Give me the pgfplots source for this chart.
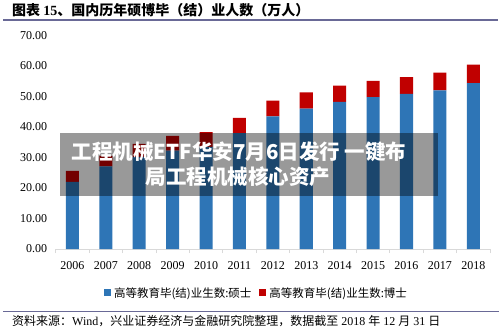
\documentclass[border=0pt]{standalone}
\usepackage{fontspec}
\setmainfont{Liberation Serif}
\newfontfamily\cjk{Noto Sans CJK SC}
\usepackage{pgfplots}
\pgfplotsset{compat=1.18}
\definecolor{mblue}{RGB}{46,117,182}
\definecolor{mred}{RGB}{192,0,0}
\definecolor{rulec}{RGB}{105,105,150}
\definecolor{axisgray}{RGB}{217,217,217}
\begin{document}
\begin{tikzpicture}[x=1pt,y=1pt]
\useasboundingbox (0,0) rectangle (500,330);
\begin{axis}[
  at={(55.7pt,81pt)}, anchor=south west,
  scale only axis, width=434.3pt, height=213.5pt,
  ybar stacked, bar width=0.39,
  xmin=-0.5, xmax=12.5, ymin=0, ymax=70,
  axis lines*=left,
  x axis line style={draw=axisgray, line width=0.8pt},
  y axis line style={draw=none},
  xtick={0,...,12},
  xticklabels={2006,2007,2008,2009,2010,2011,2012,2013,2014,2015,2016,2017,2018},
  major x tick style={draw=none},
  minor xtick={-0.5,0.5,...,12.5},
  minor x tick style={draw=axisgray, line width=0.8pt},
  tick align=outside, minor tick length=4pt, major tick length=0pt,
  ytick={0,10,...,70},
  major y tick style={draw=none},
  scaled y ticks=false,
  /pgf/number format/assume math mode=true,
  yticklabel style={/pgf/number format/fixed, /pgf/number format/fixed zerofill, /pgf/number format/precision=2, xshift=-5pt},
  xticklabel style={yshift=-9pt},
  tick label style={font=\fontsize{12}{14}\selectfont},
  legend style={at={(0.4635,-0.206)}, anchor=center, draw=none, fill=none, legend columns=2,
    font=\cjk\fontsize{11.5}{13}\selectfont,
    /tikz/every even column/.append style={column sep=5pt},
    /tikz/every node/.append style={inner xsep=3pt}},
]
\addplot[fill=mblue, draw=none, legend image code/.code={\fill[mblue] (0pt,-3.5pt) rectangle (7pt,3.5pt);}]
  coordinates {(0,21.97) (1,27.07) (2,30.18) (3,32.24) (4,33.46) (5,37.97) (6,43.47) (7,46.05) (8,48.22) (9,49.77) (10,50.89) (11,52.00) (12,54.36)};
\addplot[fill=mred, draw=none, legend image code/.code={\fill[mred] (0pt,-3.5pt) rectangle (7pt,3.5pt);}]
  coordinates {(0,3.62) (1,3.5) (2,4.30) (3,4.87) (4,4.89) (5,5.03) (6,5.17) (7,5.31) (8,5.37) (9,5.38) (10,5.50) (11,5.80) (12,6.07)};
\legend{高等教育毕(结)业生数:硕士, 高等教育毕(结)业生数:博士}
\end{axis}
\draw[rulec, line width=2pt] (3,310) -- (498,310);
\node[anchor=west, inner sep=0pt] at (12,320) {\cjk\bfseries\fontsize{14}{15}\selectfont 图表 {\rmfamily\bfseries 15}、国内历年硕博毕（结）业人数（万人）};
\draw[rulec, line width=1.2pt] (3,18.3) -- (499,18.3);
\node[anchor=west, inner sep=0pt] at (12,8.5) {\fontsize{12}{13}\selectfont{\cjk 资料来源：}Wind{\cjk ，兴业证券经济与金融研究院整理，数据截至} 2018 {\cjk 年} 12 {\cjk 月} 31 {\cjk 日}};
\fill[black, opacity=0.4] (60,197) rectangle (438,134);
\node[text=white, inner sep=0pt] at (239,178.3) {\cjk\bfseries\fontsize{20.5}{22}\selectfont 工程机械ETF华安7月6日发行 一键布};
\node[text=white, inner sep=0pt] at (238,153.3) {\cjk\bfseries\fontsize{20.5}{22}\selectfont 局工程机械核心资产};
\end{tikzpicture}
\end{document}
